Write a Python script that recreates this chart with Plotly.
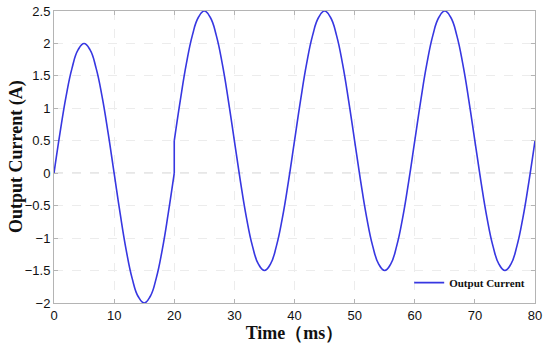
import plotly.graph_objects as go

# Time (ms) and current (A) at 1 ms steps
# first cycle (0-20 ms), amplitude 2 A
time_first = [0, 1, 2, 3, 4, 5, 6, 7, 8, 9, 10, 11, 12, 13, 14, 15, 16, 17, 18, 19, 20]
current_first = [0.0, 0.62, 1.18, 1.62, 1.90, 2.0, 1.90, 1.62, 1.18, 0.62, 0.0,
                 -0.62, -1.18, -1.62, -1.90, -2.0, -1.90, -1.62, -1.18, -0.62, 0.0]
# after the step at 20 ms (offset 0.5 A)
time_after = [20, 21, 22, 23, 24, 25, 26, 27, 28, 29, 30, 31, 32, 33, 34, 35, 36, 37, 38, 39,
              40, 41, 42, 43, 44, 45, 46, 47, 48, 49, 50, 51, 52, 53, 54, 55, 56, 57, 58, 59,
              60, 61, 62, 63, 64, 65, 66, 67, 68, 69, 70, 71, 72, 73, 74, 75, 76, 77, 78, 79, 80]
current_after = [0.5, 1.12, 1.68, 2.12, 2.40, 2.5, 2.40, 2.12, 1.68, 1.12,
                 0.5, -0.12, -0.68, -1.12, -1.40, -1.5, -1.40, -1.12, -0.68, -0.12,
                 0.5, 1.12, 1.68, 2.12, 2.40, 2.5, 2.40, 2.12, 1.68, 1.12,
                 0.5, -0.12, -0.68, -1.12, -1.40, -1.5, -1.40, -1.12, -0.68, -0.12,
                 0.5, 1.12, 1.68, 2.12, 2.40, 2.5, 2.40, 2.12, 1.68, 1.12,
                 0.5, -0.12, -0.68, -1.12, -1.40, -1.5, -1.40, -1.12, -0.68, -0.12,
                 0.5]

x_ticks = [0, 10, 20, 30, 40, 50, 60, 70, 80]
y_ticks = [-2, -1.5, -1, -0.5, 0, 0.5, 1, 1.5, 2, 2.5]

serif = "Liberation Serif, Times New Roman, serif"
sans = "Liberation Sans, Arial, sans-serif"
blue = "rgb(55,55,225)"

fig = go.Figure()
fig.add_trace(go.Scatter(
    x=time_first, y=current_first, mode="lines", name="<b>Output Current</b>",
    legendgroup="i", line=dict(color=blue, width=1.6, shape="spline", smoothing=1.3),
))
fig.add_trace(go.Scatter(
    x=[time_first[-1], time_after[0]], y=[current_first[-1], current_after[0]],
    mode="lines", legendgroup="i", showlegend=False, hoverinfo="skip",
    line=dict(color=blue, width=1.6),
))
fig.add_trace(go.Scatter(
    x=time_after, y=current_after, mode="lines", legendgroup="i", showlegend=False,
    line=dict(color=blue, width=1.6, shape="spline", smoothing=1.3),
))

fig.add_shape(type="line", xref="paper", yref="y", x0=0, x1=1, y0=0, y1=0,
              line=dict(color="#a8a8a8", width=1, dash="dash"), layer="below")

axis_common = dict(
    showline=True, linecolor="#b4b4b4", linewidth=1, mirror="ticks",
    ticks="inside", ticklen=4, tickcolor="#b4b4b4",
    showgrid=True, gridcolor="#ececec", griddash="dash", gridwidth=1,
    zeroline=False, automargin=False,
    tickfont=dict(family=sans, size=13, color="#111"),
)

fig.update_xaxes(range=[0, 80], tickvals=x_ticks, **axis_common,
                 title=dict(text="<b>Time（ms）</b>", font=dict(family=serif, size=18, color="#111"),
                            standoff=2))
fig.update_yaxes(range=[-2, 2.5], tickvals=y_ticks, **axis_common)

fig.add_annotation(text="<b>Output Current (A)</b>", xref="paper", yref="paper",
                   x=-0.079, y=0.5, xanchor="center", yanchor="middle", textangle=-90,
                   showarrow=False, font=dict(family=serif, size=18, color="#111"))

fig.update_layout(
    width=550, height=345,
    margin=dict(l=54, r=15, t=11, b=42),
    paper_bgcolor="white", plot_bgcolor="white",
    showlegend=True,
    legend=dict(x=0.99, y=0.02, xanchor="right", yanchor="bottom",
                bgcolor="rgba(255,255,255,0)", borderwidth=0,
                font=dict(family=serif, size=11, color="#111")),
)

fig.write_html("out.html", config={"displayModeBar": False},
               post_script="document.body.style.margin='0';document.body.style.overflow='hidden';")
